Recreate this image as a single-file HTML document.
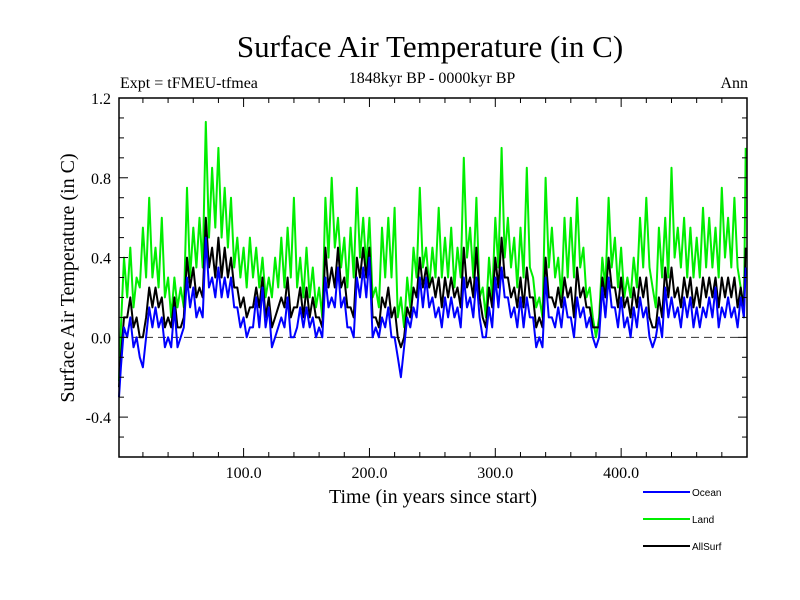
<!DOCTYPE html>
<html><head><meta charset="utf-8"><style>
body{margin:0;background:#fff;}
svg{display:block;font-family:"Liberation Serif",serif;}
</style></head><body>
<svg id="chart" width="800" height="600">
<text x="430" y="57" font-size="31" text-anchor="middle">Surface Air Temperature (in C)</text>
<text x="432" y="83" font-size="16" text-anchor="middle">1848kyr BP - 0000kyr BP</text>
<text x="120" y="88" font-size="16">Expt = tFMEU-tfmea</text>
<text x="748" y="88" font-size="16" text-anchor="end">Ann</text>
<text x="433" y="503" font-size="20" text-anchor="middle">Time (in years since start)</text>
<text transform="translate(74,278) rotate(-90)" font-size="20" text-anchor="middle">Surface Air Temperature (in C)</text>
<g id="marks"></g>
<g id="axes"></g>
<g id="legend"></g>
</svg>
<script>
const years=[0,5,10,15,20,25,30,35,40,45,50,55,60,65,70,75,80,85,90,95,100,105,110,115,120,125,130,135,140,145,150,155,160,165,170,175,180,185,190,195,200,205,210,215,220,225,230,235,240,245,250,255,260,265,270,275,280,285,290,295,300,305,310,315,320,325,330,335,340,345,350,355,360,365,370,375,380,385,390,395,400,405,410,415,420,425,430,435,440,445,450,455,460,465,470,475,480,485,490,495,499];
const land=[-0.22,0.4,0.45,0.3,0.55,0.7,0.45,0.6,0.3,0.3,0.25,0.75,0.55,0.6,1.08,0.85,0.95,0.75,0.7,0.5,0.45,0.5,0.45,0.4,0.3,0.4,0.5,0.55,0.7,0.4,0.45,0.35,0.25,0.7,0.8,0.6,0.5,0.55,0.75,0.6,0.6,0.25,0.55,0.6,0.65,0.2,0.3,0.45,0.75,0.45,0.45,0.65,0.5,0.55,0.45,0.9,0.55,0.7,0.25,0.4,0.6,0.95,0.6,0.5,0.55,0.85,0.3,0.2,0.8,0.55,0.4,0.6,0.6,0.7,0.45,0.25,0.0,0.4,0.7,0.5,0.45,0.3,0.4,0.6,0.7,0.25,0.55,0.6,0.85,0.55,0.6,0.55,0.5,0.65,0.6,0.55,0.75,0.6,0.7,0.25,0.95];
const ocean=[-0.3,0.05,0.1,0.0,-0.15,0.15,0.15,0.1,0.0,0.15,0.0,0.3,0.25,0.15,0.5,0.3,0.35,0.3,0.3,0.15,0.1,0.05,0.2,0.25,0.15,0.0,0.1,0.2,0.0,0.15,0.15,0.1,0.05,0.3,0.2,0.35,0.2,0.05,0.3,0.35,0.4,0.05,0.1,0.15,0.0,-0.2,0.1,0.15,0.3,0.3,0.2,0.15,0.2,0.2,0.15,0.3,0.2,0.3,0.0,0.15,0.3,0.35,0.2,0.15,0.2,0.2,0.1,0.0,0.3,0.1,0.15,0.2,0.1,0.2,0.15,0.1,-0.05,0.25,0.3,0.15,0.2,0.1,0.15,0.2,0.15,-0.05,0.1,0.25,0.2,0.15,0.2,0.2,0.15,0.15,0.2,0.25,0.15,0.2,0.15,0.2,0.35];
const allsurf=[-0.25,0.1,0.2,0.1,0.0,0.25,0.25,0.2,0.1,0.2,0.05,0.4,0.35,0.25,0.6,0.45,0.5,0.45,0.4,0.25,0.2,0.15,0.25,0.3,0.2,0.1,0.2,0.3,0.15,0.25,0.25,0.2,0.1,0.45,0.35,0.45,0.3,0.15,0.4,0.45,0.45,0.1,0.2,0.25,0.15,-0.05,0.15,0.25,0.4,0.35,0.3,0.3,0.3,0.3,0.25,0.45,0.3,0.45,0.1,0.25,0.4,0.5,0.3,0.25,0.3,0.35,0.2,0.1,0.4,0.2,0.25,0.3,0.25,0.35,0.25,0.15,0.05,0.3,0.4,0.25,0.3,0.2,0.25,0.3,0.3,0.05,0.2,0.35,0.35,0.25,0.3,0.3,0.25,0.3,0.3,0.3,0.3,0.3,0.3,0.25,0.45];
// intermediate (trough) samples at year 2.5, 7.5, ... 497.5
const landLow=[0.05,0.2,0.15,0.25,0.3,0.3,0.25,0.2,0.1,0.15,0.15,0.3,0.35,0.35,0.5,0.55,0.5,0.45,0.35,0.3,0.25,0.3,0.25,0.2,0.2,0.25,0.25,0.3,0.25,0.2,0.2,0.15,0.1,0.4,0.45,0.35,0.25,0.3,0.4,0.35,0.2,0.15,0.3,0.3,0.1,0.05,0.15,0.3,0.35,0.25,0.3,0.3,0.3,0.25,0.3,0.4,0.3,0.2,0.1,0.2,0.35,0.4,0.35,0.25,0.3,0.35,0.15,0.1,0.35,0.3,0.2,0.3,0.3,0.35,0.2,0.1,0.1,0.25,0.35,0.25,0.2,0.2,0.25,0.35,0.35,0.15,0.3,0.3,0.4,0.35,0.3,0.3,0.3,0.35,0.35,0.3,0.4,0.35,0.35,0.1];
const oceanLow=[-0.15,0.0,-0.05,-0.1,0.0,0.05,0.05,-0.05,-0.05,-0.05,0.05,0.15,0.1,0.1,0.25,0.2,0.2,0.2,0.15,0.05,0.0,0.05,0.05,0.05,-0.05,0.05,0.05,0.0,0.05,0.05,0.05,0.0,0.0,0.15,0.15,0.15,0.05,0.0,0.2,0.2,0.0,0.0,0.05,0.0,-0.1,-0.05,0.05,0.1,0.15,0.15,0.1,0.05,0.1,0.1,0.05,0.15,0.1,0.1,0.0,0.05,0.15,0.2,0.1,0.05,0.05,0.1,-0.05,-0.05,0.1,0.05,0.05,0.1,0.0,0.1,0.05,0.0,0.0,0.1,0.15,0.05,0.05,0.0,0.05,0.1,0.0,0.0,0.0,0.1,0.1,0.05,0.1,0.05,0.05,0.1,0.1,0.05,0.1,0.1,0.05,0.1];
const allLow=[-0.1,0.1,0.05,0.0,0.1,0.15,0.15,0.05,0.05,0.05,0.1,0.25,0.2,0.2,0.35,0.3,0.3,0.3,0.25,0.15,0.1,0.15,0.15,0.1,0.05,0.15,0.15,0.1,0.15,0.1,0.1,0.1,0.05,0.25,0.25,0.25,0.15,0.1,0.3,0.3,0.1,0.05,0.15,0.1,0.0,0.0,0.1,0.2,0.25,0.25,0.2,0.15,0.2,0.2,0.15,0.25,0.2,0.2,0.05,0.15,0.25,0.3,0.2,0.15,0.15,0.2,0.05,0.05,0.2,0.15,0.15,0.2,0.1,0.2,0.15,0.05,0.05,0.2,0.25,0.15,0.15,0.1,0.15,0.2,0.1,0.05,0.1,0.2,0.2,0.15,0.2,0.15,0.15,0.2,0.2,0.15,0.2,0.2,0.15,0.15];
const xTicks=[100,200,300,400];
const xTickLabels=["100.0","200.0","300.0","400.0"];
const yTicks=[-0.4,0,0.4,0.8,1.2];
const yTickLabels=["-0.4","0.0","0.4","0.8","1.2"];
const L=119,R=747,T=98,B=457,X0=1,X1=500,Y0=-0.6,Y1=1.2;
const sx=v=>L+(v-X0)/(X1-X0)*(R-L);
const sy=v=>B-(v-Y0)/(Y1-Y0)*(B-T);
const NS='http://www.w3.org/2000/svg';
function mk(tag,attrs,parent){const e=document.createElementNS(NS,tag);for(const k in attrs)e.setAttribute(k,attrs[k]);parent.appendChild(e);return e;}
const marks=document.getElementById('marks'),axes=document.getElementById('axes'),leg=document.getElementById('legend');
const zl=mk('line',{x1:L,x2:R,y1:sy(0),y2:sy(0),stroke:'#333','stroke-dasharray':'8,5','stroke-width':1},marks);


function series(vals,lows,color,name){
  const pts=[];
  vals.forEach((v,i)=>{pts.push([Math.max(X0,years[i]),v]);if(i<lows.length&&i<vals.length-1)pts.push([years[i]+2.5,lows[i]]);});
  const d=pts.map((p,i)=>(i?'L':'M')+sx(p[0]).toFixed(1)+','+sy(p[1]).toFixed(1)).join('');
  const p=mk('path',{d:d,fill:'none',stroke:color,'stroke-width':2,'stroke-linejoin':'round'},marks);
  
  
}
series(land,landLow,'#00ee00','land-line');
series(allsurf,allLow,'#000000','allsurf-line');
series(ocean,oceanLow,'#0000ff','ocean-line');
const fr=mk('rect',{x:L,y:T,width:R-L,height:B-T,fill:'none',stroke:'#000','stroke-width':1.5},axes);


for(let v=20;v<X1;v+=20){const maj=v%100===0,len=maj?9:5,x=sx(v);
  mk('line',{x1:x,x2:x,y1:B,y2:B-len,stroke:'#000'},axes);
  mk('line',{x1:x,x2:x,y1:T,y2:T+len,stroke:'#000'},axes);}
for(let k=-5;k<12;k++){const v=k/10,maj=(k%4===0),len=maj?9:5,y=sy(v);
  mk('line',{x1:L,x2:L+len,y1:y,y2:y,stroke:'#000'},axes);
  mk('line',{x1:R,x2:R-len,y1:y,y2:y,stroke:'#000'},axes);}
xTicks.forEach((v,i)=>{const t=mk('text',{x:sx(v),y:478,'font-size':16,'text-anchor':'middle'},axes);t.textContent=xTickLabels[i];
  
  });
yTicks.forEach((v,i)=>{const t=mk('text',{x:111,y:sy(v)+6,'font-size':16,'text-anchor':'end'},axes);t.textContent=yTickLabels[i];
  
  });
[['Ocean','#0000ff',492],['Land','#00ee00',519],['AllSurf','#000000',546]].forEach(([n,c,y])=>{
  const g=mk('g',{},leg);
  
  
  mk('line',{x1:643,x2:690,y1:y,y2:y,stroke:c,'stroke-width':2},g);
  const t=mk('text',{x:692,y:y+4,'font-size':10,'font-family':'Liberation Sans, sans-serif'},g);t.textContent=n;});
</script>
</body></html>
